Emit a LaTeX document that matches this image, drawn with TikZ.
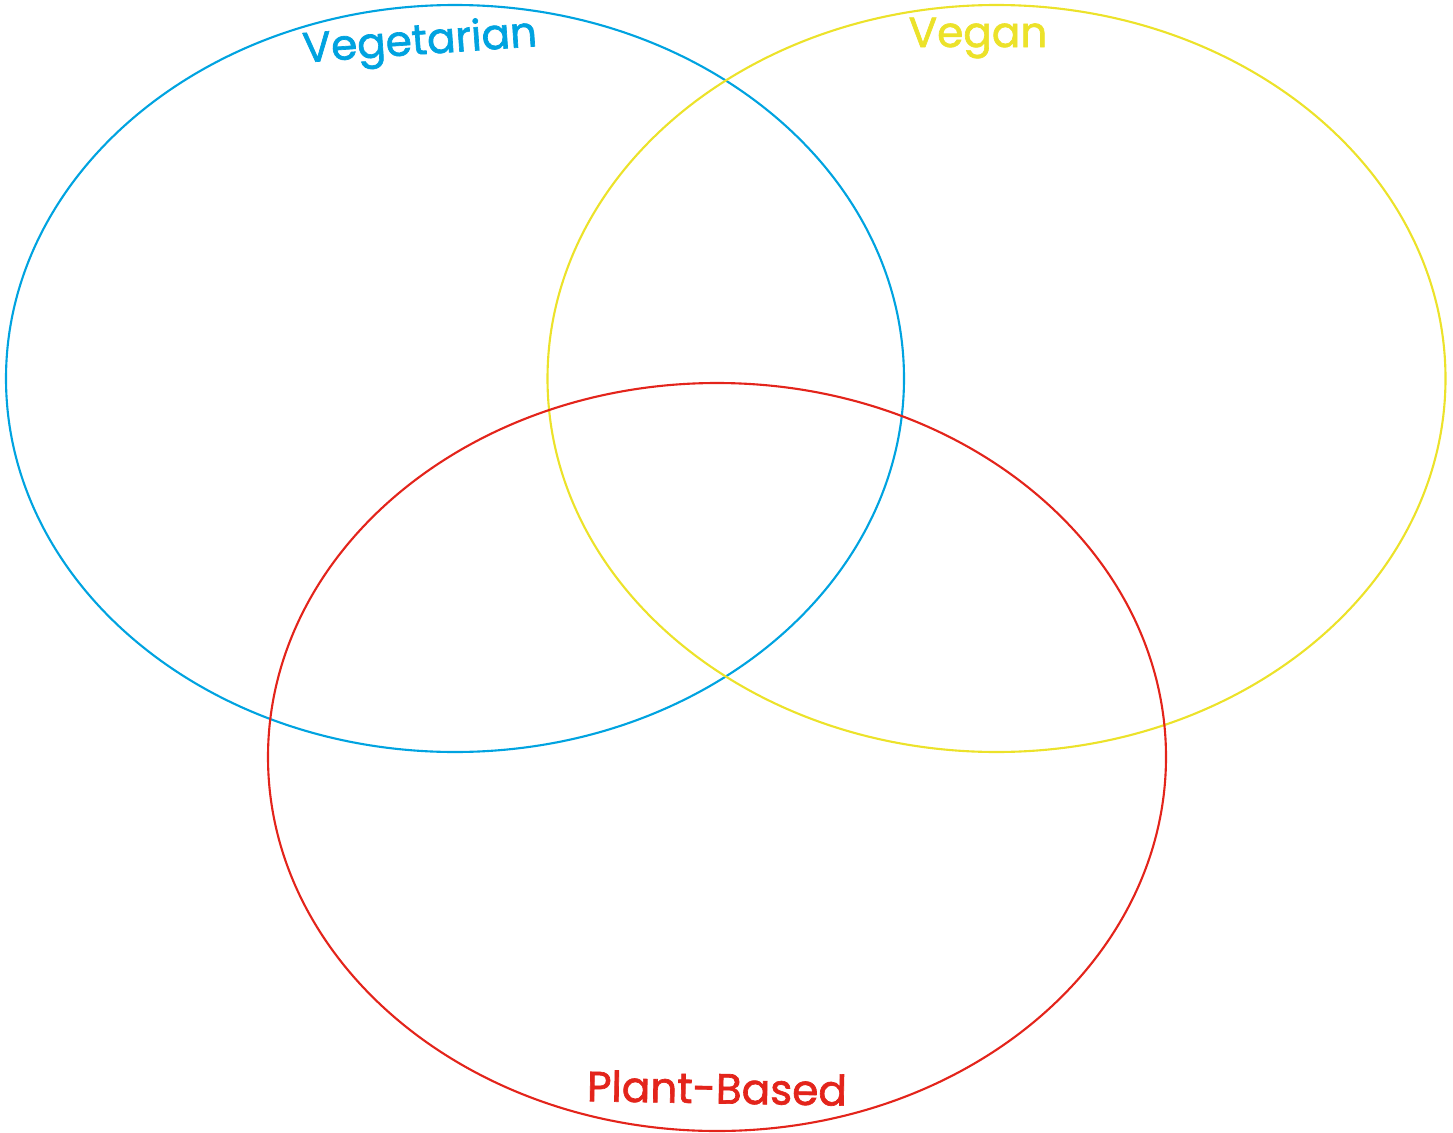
\documentclass[tikz,border=0pt]{standalone}
\usepackage{fontspec}
\setmainfont{Poppins}
\newfontfamily\setfont{Poppins}[FakeBold=1.6]
\usepackage{tikz}
\usetikzlibrary{positioning}
\definecolor{vegblue}{RGB}{0,163,224}
\definecolor{veganyellow}{RGB}{236,226,42}
\definecolor{plantred}{RGB}{227,36,27}

\begin{document}
\begin{tikzpicture}[x=0.02cm, y=-0.02cm, ring/.style={line width=1.2pt}, setlabel/.style={font=\setfont\fontsize{24}{24}\selectfont, inner sep=0pt}]
\useasboundingbox (0,0) rectangle (1453,1132);
\draw[ring, vegblue] (455,378.5) ellipse [x radius=449, y radius=373.5];
\draw[ring, veganyellow] (996.5,378.5) ellipse [x radius=449, y radius=373.5];
\draw[ring, plantred] (717,757) ellipse [x radius=449, y radius=374];
\node[setlabel, text=vegblue, rotate=4] (vegetarian) at (420,44){Vegetarian};
\node[setlabel, text=veganyellow] (vegan) at (978,38){Vegan};
\node[setlabel, text=plantred, rotate=-1] (plantbased) at (717,1088){Plant-Based};
\end{tikzpicture}
\end{document}
